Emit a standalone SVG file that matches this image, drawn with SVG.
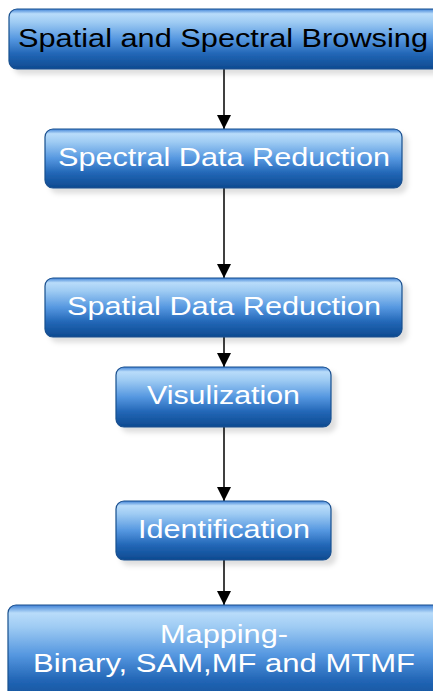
<svg xmlns="http://www.w3.org/2000/svg" width="433" height="691" viewBox="0 0 433 691">
  <defs>
    <linearGradient id="boxFill" x1="0" y1="0" x2="0" y2="1">
      <stop offset="0" stop-color="#3f82d6"/>
      <stop offset="0.08" stop-color="#b9dcfa"/>
      <stop offset="0.22" stop-color="#9ecbf3"/>
      <stop offset="0.5" stop-color="#5597e0"/>
      <stop offset="0.75" stop-color="#2266b6"/>
      <stop offset="1" stop-color="#0d4a90"/>
    </linearGradient>
    <filter id="shadow" x="-10%" y="-20%" width="125%" height="150%">
      <feDropShadow dx="5" dy="5" stdDeviation="2.5" flood-color="#000" flood-opacity="0.13"/>
    </filter>
    <marker id="arrow" markerWidth="14" markerHeight="14" refX="14" refY="7" orient="auto" markerUnits="userSpaceOnUse">
      <path d="M0,0 L14,7 L0,14 Z" fill="#000"/>
    </marker>
  </defs>
  <style>
    .box { fill: url(#boxFill); stroke: #1a4f8e; stroke-width: 1.2; filter: url(#shadow); }
    .label { font-family: "Liberation Sans", Arial, sans-serif; font-size: 26px; fill: #ffffff; text-anchor: middle; }
    .dark { fill: #000000; }
    .conn { stroke: #000; stroke-width: 1.5; fill: none; marker-end: url(#arrow); }
  </style>

  <rect width="433" height="691" fill="#ffffff"/>

  <g id="connectors">
    <line class="conn" x1="224" y1="69" x2="224" y2="129"/>
    <line class="conn" x1="224" y1="188" x2="224" y2="278"/>
    <line class="conn" x1="224" y1="337" x2="224" y2="367"/>
    <line class="conn" x1="224" y1="427" x2="224" y2="501"/>
    <line class="conn" x1="224" y1="560" x2="224" y2="605"/>
  </g>

  <g id="browsing">
    <rect class="box" x="9" y="9" width="432" height="60" rx="8"/>
    <text class="label dark" x="223" y="47" textLength="410" lengthAdjust="spacingAndGlyphs">Spatial and Spectral Browsing</text>
  </g>

  <g id="spectral-reduction">
    <rect class="box" x="45" y="129" width="357" height="59" rx="8"/>
    <text class="label" x="224" y="166" textLength="332" lengthAdjust="spacingAndGlyphs">Spectral Data Reduction</text>
  </g>

  <g id="spatial-reduction">
    <rect class="box" x="45" y="278" width="357" height="59" rx="8"/>
    <text class="label" x="224" y="315" textLength="314" lengthAdjust="spacingAndGlyphs">Spatial Data Reduction</text>
  </g>

  <g id="visualization">
    <rect class="box" x="116" y="367" width="215" height="60" rx="8"/>
    <text class="label" x="223.5" y="404" textLength="153" lengthAdjust="spacingAndGlyphs">Visulization</text>
  </g>

  <g id="identification">
    <rect class="box" x="116" y="501" width="215" height="59" rx="8"/>
    <text class="label" x="224" y="538" textLength="172" lengthAdjust="spacingAndGlyphs">Identification</text>
  </g>

  <g id="mapping">
    <rect class="box" x="8" y="605" width="433" height="100" rx="8"/>
    <text class="label" x="224" y="643" textLength="128" lengthAdjust="spacingAndGlyphs">Mapping-</text>
    <text class="label" x="224" y="672" textLength="382" lengthAdjust="spacingAndGlyphs">Binary, SAM,MF and MTMF</text>
  </g>
</svg>
